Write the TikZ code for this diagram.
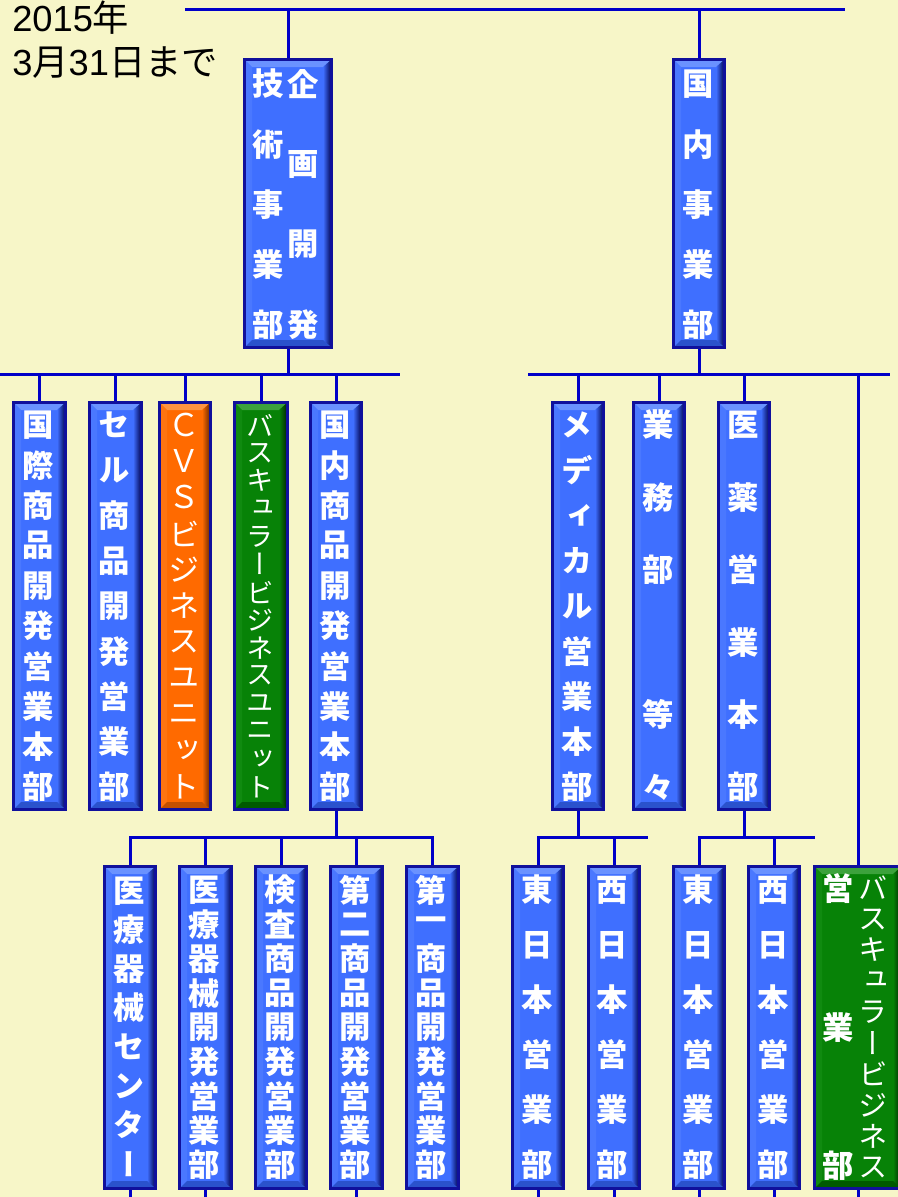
\documentclass[tikz,border=0pt]{standalone}
\usepackage{fontspec}
\setmainfont{Liberation Sans}
\newfontfamily\jph{Noto Sans CJK JP}
\newfontfamily\jpv{Noto Sans CJK JP}[RawFeature=+vert]
\definecolor{bg}{HTML}{F7F6C8}
\definecolor{lineblue}{HTML}{0000C8}
\definecolor{borderblue}{HTML}{10109C}
\definecolor{bluebase}{HTML}{3F6FFF}
\definecolor{bluetop}{HTML}{6A92FF}
\definecolor{blueleft}{HTML}{4A78FF}
\definecolor{bluedark}{HTML}{00004C}
\definecolor{bluebot}{HTML}{2A52CC}
\definecolor{orangebase}{HTML}{FF6A00}
\definecolor{orangetop}{HTML}{FF9440}
\definecolor{orangeleft}{HTML}{FF7410}
\definecolor{orangedark}{HTML}{602400}
\definecolor{orangebot}{HTML}{C45000}
\definecolor{greenbase}{HTML}{078207}
\definecolor{greentop}{HTML}{3CA23C}
\definecolor{greenleft}{HTML}{108A10}
\definecolor{greendark}{HTML}{002000}
\definecolor{greenbot}{HTML}{005A00}
\newdimen\pxu \pxu=0.75pt
\newcommand\vtch[1]{\vbox to 0pt{\vss\hbox to 0pt{\hss#1\hss}\vss}}
\def\vtx#1#2\relax{\vbox to #1\pxu{\offinterlineskip\vtfirst#2\relax}}
\def\vtfirst#1{\vtch{#1}\vtloop}
\def\vtloop#1{\ifx#1\relax\else\vfill\vtch{#1}\expandafter\vtloop\fi}
\newcommand\bevbox[6]{%
 \fill[#6base] (#2+1.5,#3+1.5) rectangle (#4-1.5,#5-1.5);
 \fill[#6top] (#2+1.5,#3+1.5) -- (#4-1.5,#3+1.5) -- (#4-9,#3+9) -- (#2+9,#3+9) -- cycle;
 \fill[#6left] (#2+1.5,#3+1.5) -- (#2+9,#3+9) -- (#2+9,#5-9) -- (#2+1.5,#5-1.5) -- cycle;
 \shade[left color=#6base, right color=#6dark] (#4-1.5,#3+1.5) -- (#4-1.5,#5-1.5) -- (#4-10,#5-9) -- (#4-10,#3+9) -- cycle;
 \fill[#6bot] (#2+1.5,#5-1.5) -- (#4-1.5,#5-1.5) -- (#4-10,#5-9) -- (#2+9,#5-9) -- cycle;
 \node[boxframe, minimum width={(#4-#2-3)*0.75pt}, minimum height={(#5-#3-3)*0.75pt}] (#1) at ({(#2+#4)/2},{(#3+#5)/2}) {};
}
\tikzset{
 conn/.style={draw=lineblue, line width=2.25pt, line join=miter},
 boxframe/.style={rectangle, draw=borderblue, line width=2.25pt, inner sep=0},
 btxt/.style={text=white, inner sep=0, font=\jpv\bfseries\fontsize{23.5}{23.5}\selectfont},
 rtxt/.style={text=white, inner sep=0, font=\jpv\fontsize{23.5}{23.5}\selectfont},
 ttl/.style={anchor=base west, inner sep=0, text=black, font=\fontsize{27.2}{27.2}\selectfont},
}
\begin{document}
\begin{tikzpicture}[x=0.75pt, y=-0.75pt]
\fill[bg] (0,0) rectangle (898,1197);
\useasboundingbox (0,0) rectangle (898,1197);
% title
\node[ttl] (t1) at (12,31) {2015{\jph 年}};
\node[ttl] (t2) at (12,75) {3{\jph 月}31{\jph 日まで}};
% row 1
\bevbox{A}{243}{58}{333}{349}{blue}
\bevbox{B}{672}{58}{726}{349}{blue}
% row 2
\bevbox{L1}{12}{401}{67}{811}{blue}
\bevbox{L2}{88}{401}{143}{811}{blue}
\bevbox{L3}{158}{401}{212}{811}{orange}
\bevbox{L4}{233}{401}{289}{811}{green}
\bevbox{L5}{309}{401}{363}{811}{blue}
\bevbox{R1}{551}{401}{605}{811}{blue}
\bevbox{R2}{632}{401}{686}{811}{blue}
\bevbox{R3}{717}{401}{771}{811}{blue}
% row 3
\bevbox{M1}{103}{865}{157}{1190}{blue}
\bevbox{M2}{178}{865}{233}{1190}{blue}
\bevbox{M3}{254}{865}{308}{1190}{blue}
\bevbox{M4}{329}{865}{384}{1190}{blue}
\bevbox{M5}{405}{865}{460}{1190}{blue}
\bevbox{S1}{511}{865}{565}{1190}{blue}
\bevbox{S2}{587}{865}{641}{1190}{blue}
\bevbox{S3}{672}{865}{726}{1190}{blue}
\bevbox{S4}{747}{865}{801}{1190}{blue}
\bevbox{G}{813}{865}{903}{1190}{green}
% texts
\node[btxt] (tA1) at (268,204.5) {\vtx{241}技術事業部\relax};
\node[btxt] (tA2) at (303,204.5) {\vtx{241}企画開発\relax};
\node[btxt] (tB) at (698,204.5) {\vtx{241}国内事業部\relax};
\node[btxt] (tL1) at (38,606) {\vtx{362}国際商品開発営業本部\relax};
\node[btxt] (tL2) at (114,606) {\vtx{362}セル商品開発営業部\relax};
\node[rtxt] (tL3) at (184,606) {\vtx{362}ＣＶＳビジネスユニット\relax};
\node[rtxt, font=\jpv\fontsize{20.5}{20.5}\selectfont] (tL4) at (260,606) {\vtx{362}バスキュラービジネスユニット\relax};
\node[btxt] (tL5) at (335,606) {\vtx{362}国内商品開発営業本部\relax};
\node[btxt] (tR1) at (577,606) {\vtx{362}メディカル営業本部\relax};
\node[btxt] (tR2) at (658,606) {\vtx{362}業務部\empty 等々\relax};
\node[btxt] (tR3) at (743,606) {\vtx{362}医薬営業本部\relax};
\node[btxt] (tM1) at (129,1027.5) {\vtx{273}医療器械センター\relax};
\node[btxt] (tM2) at (204,1027.5) {\vtx{275}医療器械開発営業部\relax};
\node[btxt] (tM3) at (280,1027.5) {\vtx{275}検査商品開発営業部\relax};
\node[btxt] (tM4) at (355,1027.5) {\vtx{275}第二商品開発営業部\relax};
\node[btxt] (tM5) at (431,1027.5) {\vtx{275}第一商品開発営業部\relax};
\node[btxt] (tS1) at (537,1027.5) {\vtx{275}東日本営業部\relax};
\node[btxt] (tS2) at (612,1027.5) {\vtx{275}西日本営業部\relax};
\node[btxt] (tS3) at (698,1027.5) {\vtx{275}東日本営業部\relax};
\node[btxt] (tS4) at (773,1027.5) {\vtx{275}西日本営業部\relax};
\node[rtxt, font=\jpv\fontsize{22}{22}\selectfont] (tG1) at (873,1027.5) {\vtx{279}バスキュラービジネス\relax};
\node[btxt] (tG2) at (838,1027.5) {\vtx{277}営業部\relax};
% connectors
\coordinate (topL) at (185,9);
\coordinate (topR) at (845,9);
\draw[conn] (topL) -- (topR);
\draw[conn] (A.north) -- (A.north |- topL);
\draw[conn] (B.north) -- (B.north |- topL);
\coordinate (busLa) at (0,374);
\coordinate (busLb) at (400,374);
\draw[conn] (busLa) -- (busLb);
\draw[conn] (A.south) -- (A.south |- busLa);
\foreach \n in {L1,L2,L3,L4,L5} \draw[conn] (\n.north) -- (\n.north |- busLa);
\coordinate (busRa) at (528,374);
\coordinate (busRb) at (890,374);
\draw[conn] (busRa) -- (busRb);
\draw[conn] (B.south) -- (B.south |- busRa);
\foreach \n in {R1,R2,R3,G} \draw[conn] (\n.north) -- (\n.north |- busRa);
\coordinate (busM) at (0,837);
\draw[conn] (L5.south) -- (L5.south |- busM);
\draw[conn] (M1.north) -- (M1.north |- busM) -- (M5.north |- busM) -- (M5.north);
\foreach \n in {M2,M3,M4} \draw[conn] (\n.north) -- (\n.north |- busM);
\coordinate (busS12) at (648,837);
\coordinate (busS34) at (815,837);
\draw[conn] (R1.south) -- (R1.south |- busM);
\draw[conn] (S1.north) -- (S1.north |- busM) -- (busS12);
\draw[conn] (S2.north) -- (S2.north |- busM);
\draw[conn] (R3.south) -- (R3.south |- busM);
\draw[conn] (S3.north) -- (S3.north |- busM) -- (busS34);
\draw[conn] (S4.north) -- (S4.north |- busM);
\coordinate (bot) at (0,1202);
\foreach \n in {M1,M2,M4,S1,S2,S3,S4,G} \draw[conn] (\n.south) -- (\n.south |- bot);
\end{tikzpicture}
\end{document}
